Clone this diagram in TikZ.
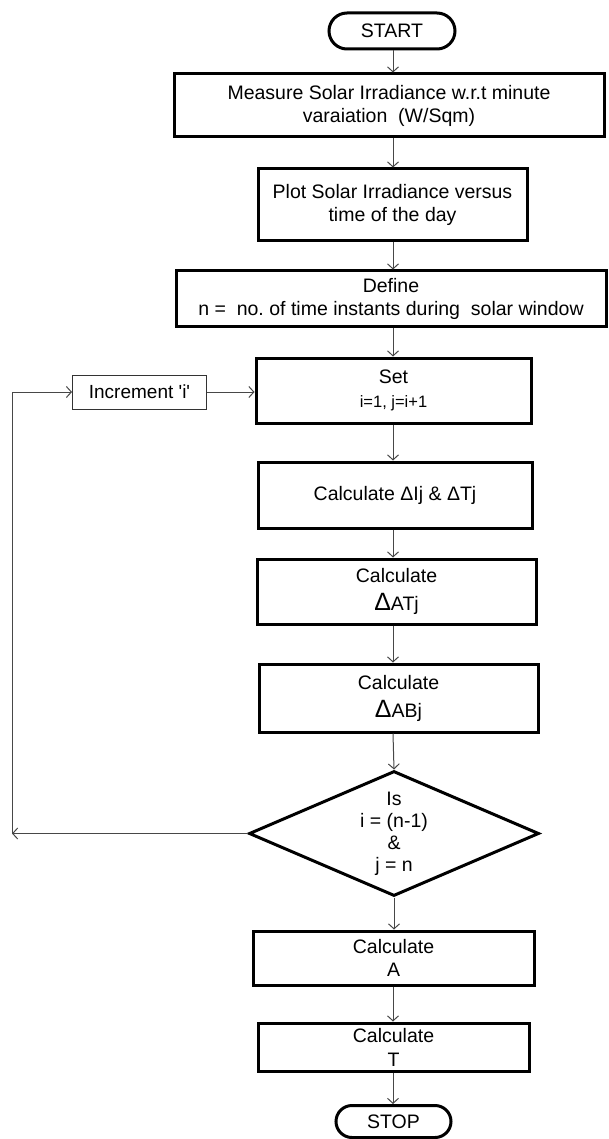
\documentclass[tikz,border=0pt]{standalone}
\usepackage{fontspec}
\setmainfont{Liberation Sans}
\usetikzlibrary{shapes.geometric,shapes.misc,arrows.meta}
\frenchspacing
\begin{document}
\begin{tikzpicture}[x=1pt,y=-1pt,
  box/.style={draw, line width=3pt, rectangle, align=center, inner sep=0pt, font=\fontsize{19.5}{23}\selectfont},
  term/.style={draw, line width=3pt, rounded rectangle, inner sep=0pt, font=\fontsize{19.5}{23}\selectfont},
  thinbox/.style={draw=black!80, line width=0.9pt, inner sep=0pt, font=\fontsize{19}{22}\selectfont},
  dec/.style={draw, line width=3pt, diamond, aspect=2.3, inner sep=0pt, align=center, font=\fontsize{19.5}{22}\selectfont},
  arr/.style={draw=black!72, line width=1pt, -{Straight Barb[length=5pt,width=11pt]}}]
\useasboundingbox (0,0) rectangle (608,1139);
\coordinate (ax) at (393,0);
\node[term, minimum width=126pt, minimum height=36pt] (start) at (392,31) {START};
\node[box, minimum width=430pt, minimum height=63pt] (b1) at (389,105.5) {Measure Solar Irradiance w.r.t minute\\varaiation\ \ (W/Sqm)};
\node[box, minimum width=269pt, minimum height=72pt] (b2) at (392.5,205) {Plot Solar Irradiance versus\\time of the day};
\node[box, minimum width=430pt, minimum height=55pt] (b3) at (391,298.5) {Define\\n =\ \ no. of time instants during\ \ solar window};
\node[box, minimum width=275pt, minimum height=65pt] (set) at (393.5,390.5) {Set\\[1pt]{\fontsize{16.5}{18}\selectfont i=1, j=i+1}};
\node[thinbox, minimum width=134pt, minimum height=34pt] (inc) at (139.5,392) {Increment \textquotesingle i\textquotesingle};
\node[box, minimum width=274pt, minimum height=66pt] (dij) at (395,495) {Calculate ΔIj \& ΔTj};
\node[box, minimum width=279pt, minimum height=65pt] (dat) at (396.5,591.5) {Calculate\\[5pt]{\fontsize{25}{25}\selectfont Δ}ATj};
\node[box, minimum width=279pt, minimum height=68pt] (dab) at (398.5,698) {Calculate\\[5pt]{\fontsize{25}{25}\selectfont Δ}ABj};
\node[dec, minimum width=290pt, minimum height=125pt] (dec) at (394,833.5) {Is\\i = (n-1)\\\&\\j = n};
\node[box, minimum width=281pt, minimum height=54pt] (ca) at (393.5,958) {Calculate\\A};
\node[box, minimum width=271pt, minimum height=48pt] (ct) at (393.5,1047) {Calculate\\[1pt]T};
\node[term, minimum width=115pt, minimum height=32pt] (stop) at (393.5,1121.5) {STOP};
\draw[arr] (start.south -| ax) -- (b1.north -| ax);
\draw[arr] (b1.south -| ax) -- (b2.north -| ax);
\draw[arr] (b2.south -| ax) -- (b3.north -| ax);
\draw[arr] (b3.south -| ax) -- (set.north -| ax);
\draw[arr] (set.south -| ax) -- (dij.north -| ax);
\draw[arr] (dij.south -| ax) -- (dat.north -| ax);
\draw[arr] (dat.south -| ax) -- (dab.north -| ax);
\draw[arr] (dab.south -| ax) -- (dec.north);
\draw[arr] (dec.south) -- (ca.north -| dec.south);
\draw[arr] (ca.south -| ax) -- (ct.north -| ax);
\draw[arr] (ct.south -| ax) -- (stop.north -| ax);
\coordinate (lc) at (12,833.5);
\draw[arr] (dec.west) -- (lc);
\draw[arr] (lc) |- (inc.west);
\draw[arr] (inc.east) -- (inc.east -| set.west);
\end{tikzpicture}
\end{document}
